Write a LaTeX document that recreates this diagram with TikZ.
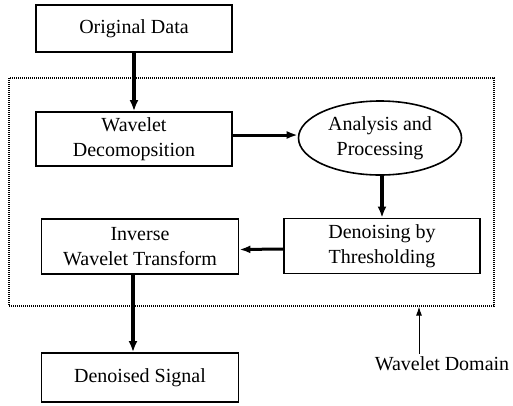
\documentclass[tikz,border=0pt]{standalone}
\usepackage{fontspec}
\setmainfont{Liberation Serif}
\usetikzlibrary{arrows.meta,shapes.geometric}

\tikzset{
  stagebox/.style={draw, line width=1.8pt, minimum width=196pt, minimum height=50pt,
    inner sep=2pt, align=center, font=\fontsize{20}{25}\selectfont},
  stageoval/.style={ellipse, draw, line width=1.6pt, minimum width=163pt,
    minimum height=74pt, inner sep=0pt, align=center, font=\fontsize{20}{25}\selectfont},
  flow/.style={line width=3.4pt, -{Latex[length=11pt,width=9pt]}},
  sideflow/.style={line width=3pt, -{Latex[length=11pt,width=8pt]}},
  domainframe/.style={draw, dash pattern=on 1pt off 1pt, line width=1.2pt, inner sep=0pt},
  pointer/.style={line width=1pt, -{Latex[length=9pt,width=6pt]}}
}

\begin{document}
\begin{tikzpicture}[x=1pt, y=-1pt]
  \useasboundingbox (0,0) rectangle (513,405);

  % Dotted frame of the wavelet domain
  \node[domainframe, minimum width=485pt, minimum height=228pt] (domain) at (251.5,192) {};

  % Processing stages
  \node[stagebox, minimum height=47pt] (orig) at (134,28.5) {Original Data};
  \node[stagebox, minimum height=54pt] (decomp) at (134,139) {Wavelet\\Decomopsition};
  \node[stageoval] (analysis) at (380,138) {Analysis and\\Processing};
  \node[stagebox, minimum height=55pt] (thresh) at (382,246) {Denoising by\\Thresholding};
  \node[stagebox, minimum height=55pt, minimum width=197pt] (inverse) at (140,246.5) {Inverse\\Wavelet Transform};
  \node[stagebox, minimum height=49pt, minimum width=197pt] (result) at (140,377.5) {Denoised Signal};

  \node[font=\fontsize{20}{25}\selectfont, inner sep=3pt] (domainlabel) at (442,364) {Wavelet Domain};

  % Arrows between the stages
  \draw[flow] (orig) -- (decomp);
  \draw[sideflow] ([yshift=4pt]decomp.east) -- ([yshift=4pt]decomp.east -| analysis.west);
  \draw[flow] (analysis.south -| thresh.north) -- (thresh.north);
  \draw[sideflow] ([yshift=-3pt]thresh.west) -- ([yshift=-3pt]inverse.east);
  \draw[flow] ([xshift=-7pt]inverse.south) -- ([xshift=-7pt]result.north);

  % Pointer to the frame
  \draw[pointer] ([xshift=-23pt]domainlabel.north) -- ([xshift=-23pt]domainlabel.north |- domain.south);

\end{tikzpicture}
\end{document}
